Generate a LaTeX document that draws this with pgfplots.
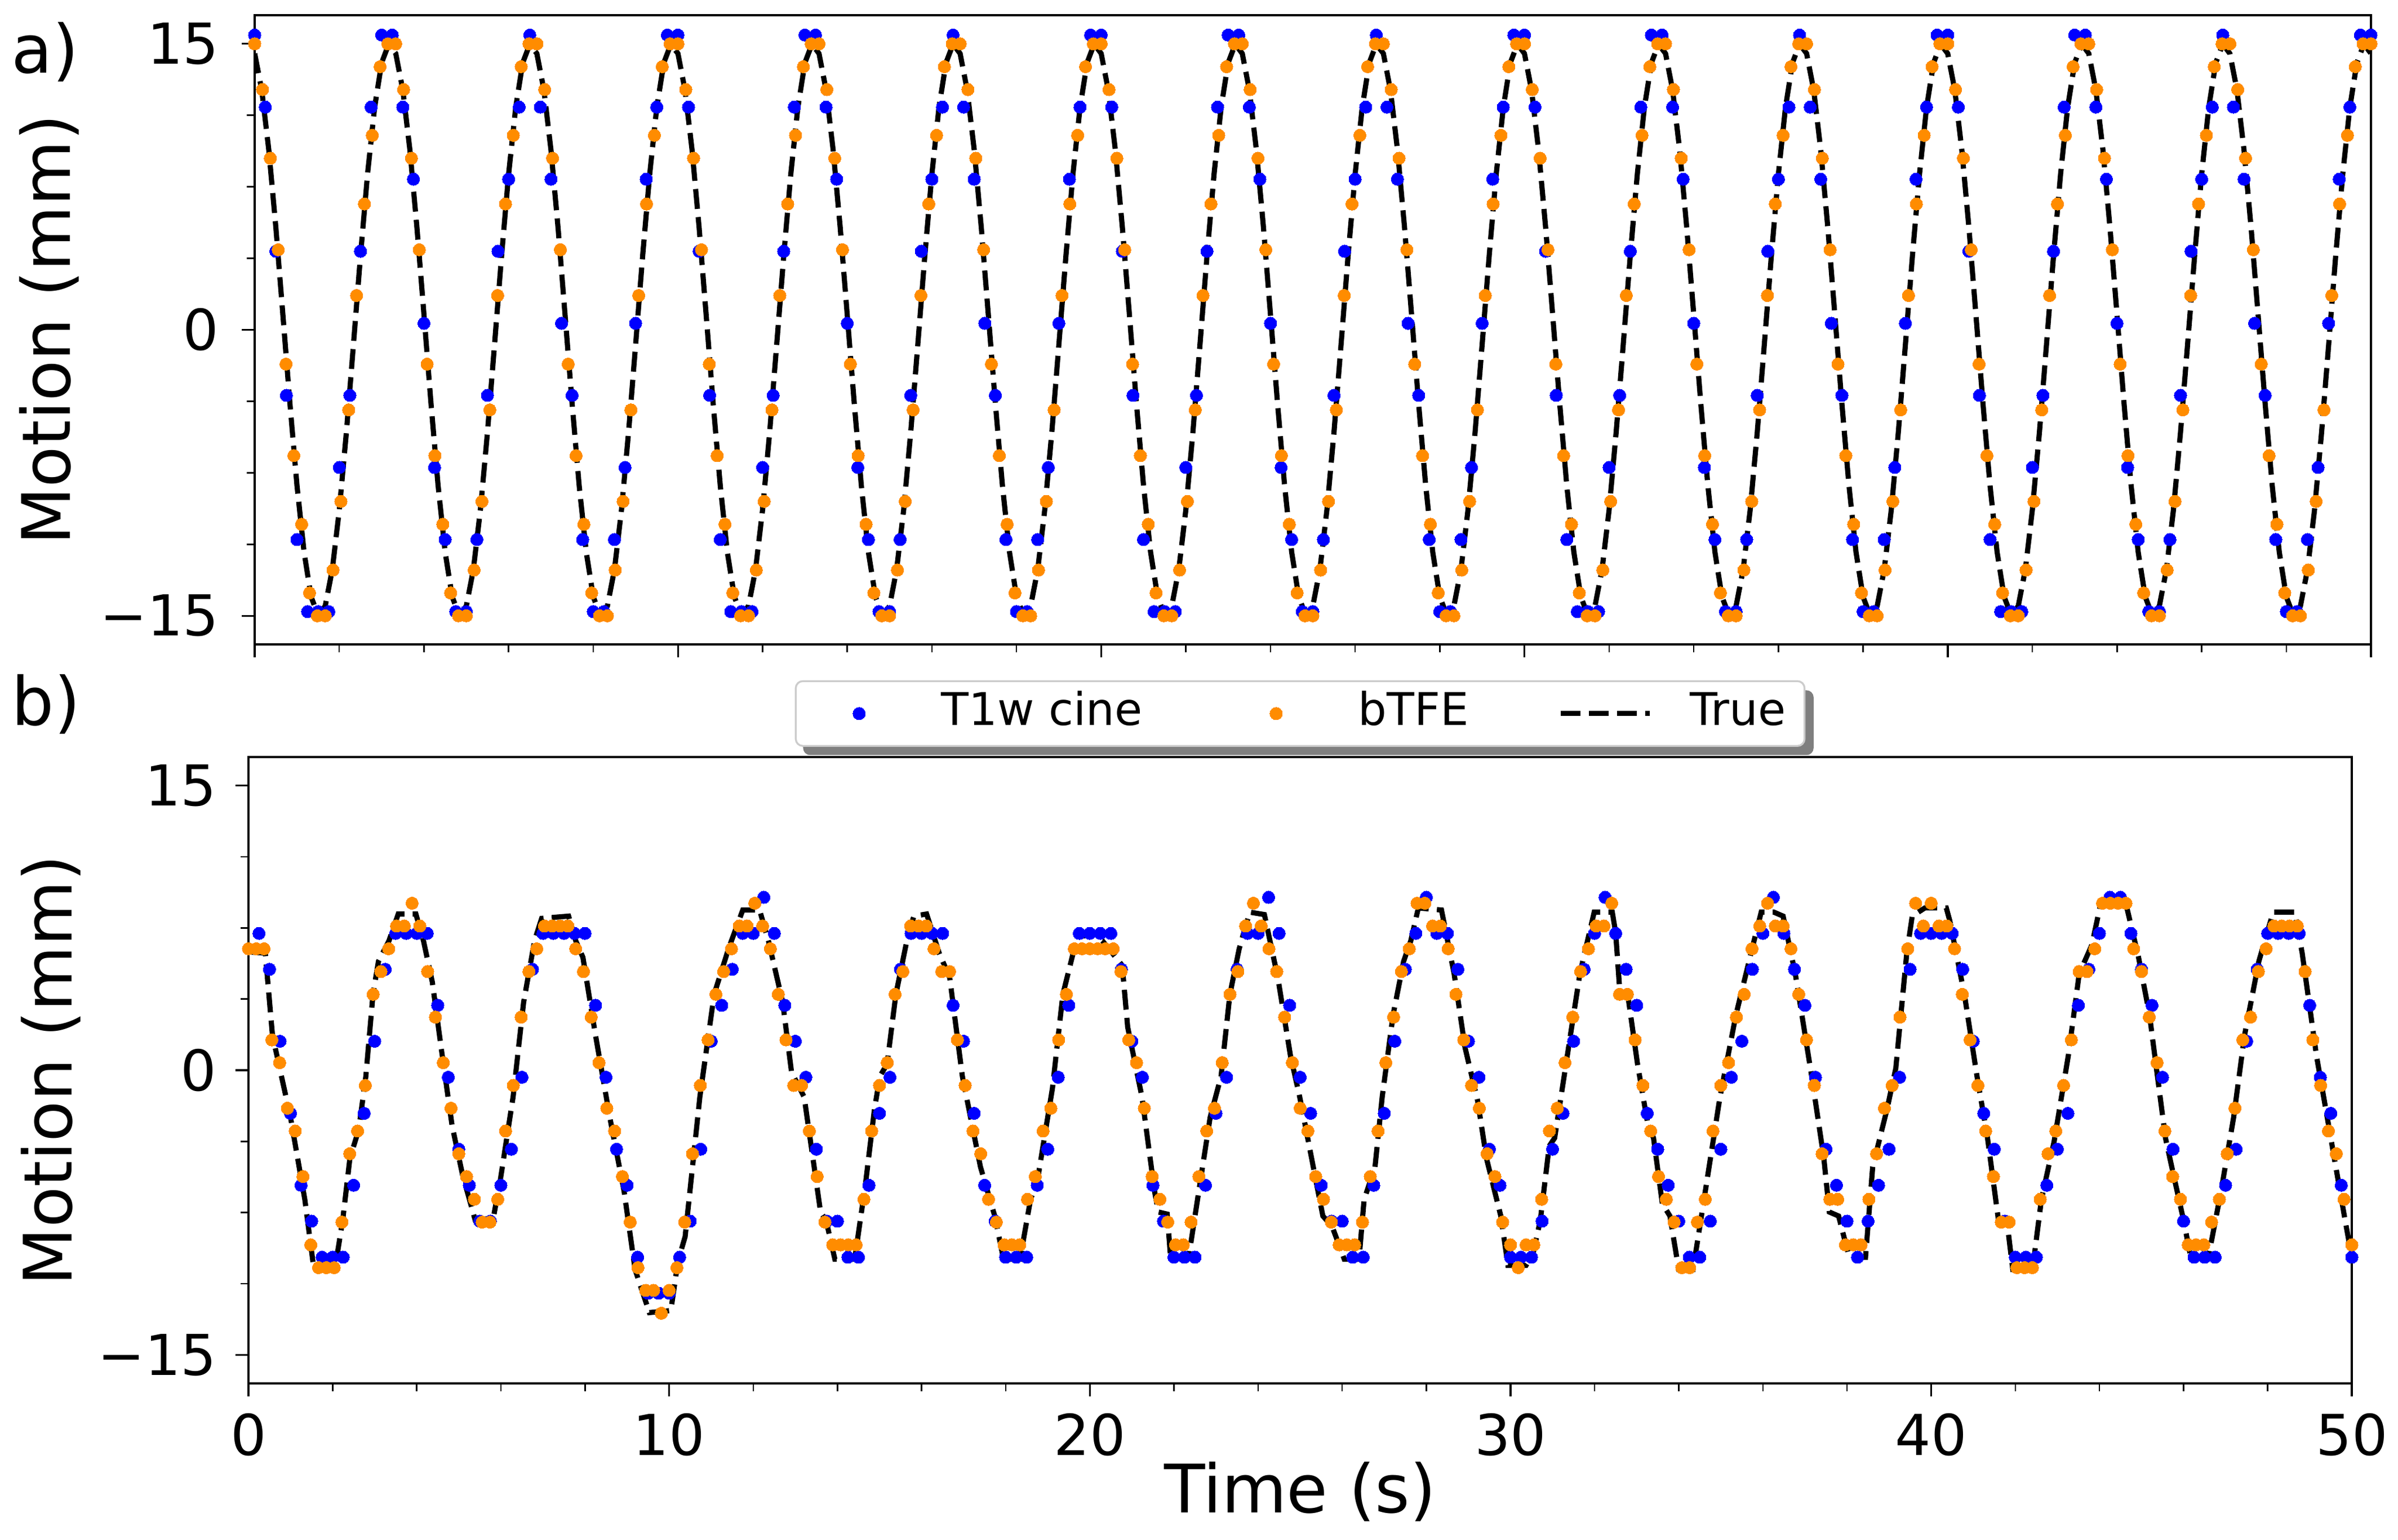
\documentclass[border=0pt]{standalone}
\usepackage{fontspec}
\setmainfont{DejaVu Sans}
\usepackage{pgfplots}
\pgfplotsset{compat=1.18}
\definecolor{cblue}{RGB}{0,0,255}
\definecolor{corange}{RGB}{255,140,0}
\pgfplotsset{
  panel/.style={
    scale only axis,
    axis on top,
    xmin=0, xmax=50, ymin=-16.5, ymax=16.5,
    axis line style={line width=0.8pt},
    every tick/.style={black, line width=0.8pt},
    minor tick style={line width=0.6pt},
    major tick length=5.5pt,
    minor tick length=3.4pt,
    tick align=outside,
    tick pos=left,
    xtick={0,10,20,30,40,50},
    minor x tick num=4,
    ytick={-15,0,15},
    yticklabels={−15,0,15},
    minor y tick num=3,
    tick label style={font=\fontsize{24}{28}\selectfont, inner sep=0pt},
    /pgf/number format/assume math mode=true,
    label style={font=\fontsize{28.5}{34}\selectfont, inner sep=0pt},
  },
  dotleg/.style={legend image code/.code={%
      \path[draw=none,fill=none] (0pt,-1pt) rectangle (38pt,1pt);
      \draw[mark repeat=2,mark phase=2,##1] plot coordinates {(0pt,0pt) (19pt,0pt) (38pt,0pt)};}},
  lineleg/.style={legend image code/.code={%
      \draw[##1] (0pt,0pt) -- (38pt,0pt);}},
  bluedots/.style={only marks, mark=*, mark size=2.65pt, color=cblue, mark options={line width=0pt}, dotleg},
  orangedots/.style={only marks, mark=*, mark size=2.65pt, color=corange, mark options={line width=0pt}, dotleg},
  trueline/.style={no markers, black, line width=2.2pt, dash pattern=on 8.5pt off 3.5pt, lineleg},
}
\begin{document}
\begin{tikzpicture}
\useasboundingbox (0,0) rectangle (1021.44pt,655.92pt);
\begin{axis}[panel, at={(108.48pt,381.36pt)}, anchor=south west,
  width=901.44pt, height=268.08pt,
  xticklabels={},
  yticklabel shift=9.6pt,
  ylabel={Motion (mm)},
  ylabel style={at={(axis description cs:-0.08706,0.5)}, anchor=base},
]
\addplot[bluedots] coordinates {
(0,15.46)(0.25,11.68)(0.5,4.12)(0.75,-3.44)(1,-11.0)(1.25,-14.78)(1.5,-14.78)(1.75,-14.78)(2,-7.22)(2.25,-3.44)(2.5,4.12)(2.75,11.68)(3,15.46)(3.25,15.46)(3.5,11.68)(3.75,7.90)(4,0.34)(4.25,-7.22)(4.5,-11.0)(4.75,-14.78)(5,-14.78)(5.25,-11.0)(5.5,-3.44)(5.75,4.12)(6,7.90)(6.25,11.68)(6.5,15.46)(6.75,11.68)(7,7.90)(7.25,0.34)(7.5,-3.44)(7.75,-11.0)(8,-14.78)(8.25,-14.78)(8.5,-11.0)(8.75,-7.22)(9,0.34)(9.25,7.90)(9.5,11.68)(9.75,15.46)
(10,15.46)(10.25,11.68)(10.5,4.12)(10.75,-3.44)(11,-11.0)(11.25,-14.78)(11.5,-14.78)(11.75,-14.78)(12,-7.22)(12.25,-3.44)(12.5,4.12)(12.75,11.68)(13,15.46)(13.25,15.46)(13.5,11.68)(13.75,7.90)(14,0.34)(14.25,-7.22)(14.5,-11.0)(14.75,-14.78)(15,-14.78)(15.25,-11.0)(15.5,-3.44)(15.75,4.12)(16,7.90)(16.25,11.68)(16.5,15.46)(16.75,11.68)(17,7.90)(17.25,0.34)(17.5,-3.44)(17.75,-11.0)(18,-14.78)(18.25,-14.78)(18.5,-11.0)(18.75,-7.22)(19,0.34)(19.25,7.90)(19.5,11.68)(19.75,15.46)
(20,15.46)(20.25,11.68)(20.5,4.12)(20.75,-3.44)(21,-11.0)(21.25,-14.78)(21.5,-14.78)(21.75,-14.78)(22,-7.22)(22.25,-3.44)(22.5,4.12)(22.75,11.68)(23,15.46)(23.25,15.46)(23.5,11.68)(23.75,7.90)(24,0.34)(24.25,-7.22)(24.5,-11.0)(24.75,-14.78)(25,-14.78)(25.25,-11.0)(25.5,-3.44)(25.75,4.12)(26,7.90)(26.25,11.68)(26.5,15.46)(26.75,11.68)(27,7.90)(27.25,0.34)(27.5,-3.44)(27.75,-11.0)(28,-14.78)(28.25,-14.78)(28.5,-11.0)(28.75,-7.22)(29,0.34)(29.25,7.90)(29.5,11.68)(29.75,15.46)
(30,15.46)(30.25,11.68)(30.5,4.12)(30.75,-3.44)(31,-11.0)(31.25,-14.78)(31.5,-14.78)(31.75,-14.78)(32,-7.22)(32.25,-3.44)(32.5,4.12)(32.75,11.68)(33,15.46)(33.25,15.46)(33.5,11.68)(33.75,7.90)(34,0.34)(34.25,-7.22)(34.5,-11.0)(34.75,-14.78)(35,-14.78)(35.25,-11.0)(35.5,-3.44)(35.75,4.12)(36,7.90)(36.25,11.68)(36.5,15.46)(36.75,11.68)(37,7.90)(37.25,0.34)(37.5,-3.44)(37.75,-11.0)(38,-14.78)(38.25,-14.78)(38.5,-11.0)(38.75,-7.22)(39,0.34)(39.25,7.90)(39.5,11.68)(39.75,15.46)
(40,15.46)(40.25,11.68)(40.5,4.12)(40.75,-3.44)(41,-11.0)(41.25,-14.78)(41.5,-14.78)(41.75,-14.78)(42,-7.22)(42.25,-3.44)(42.5,4.12)(42.75,11.68)(43,15.46)(43.25,15.46)(43.5,11.68)(43.75,7.90)(44,0.34)(44.25,-7.22)(44.5,-11.0)(44.75,-14.78)(45,-14.78)(45.25,-11.0)(45.5,-3.44)(45.75,4.12)(46,7.90)(46.25,11.68)(46.5,15.46)(46.75,11.68)(47,7.90)(47.25,0.34)(47.5,-3.44)(47.75,-11.0)(48,-14.78)(48.25,-14.78)(48.5,-11.0)(48.75,-7.22)(49,0.34)(49.25,7.90)(49.5,11.68)(49.75,15.46)
(50,15.46)
};
\addplot[orangedots] coordinates {
(0,15.0)(0.185,12.6)(0.370,9.0)(0.556,4.2)(0.741,-1.8)(0.926,-6.6)(1.111,-10.2)(1.296,-13.8)(1.481,-15.0)(1.667,-15.0)(1.852,-12.6)(2.037,-9.0)(2.222,-4.2)(2.407,1.8)(2.593,6.6)(2.778,10.2)(2.963,13.8)(3.148,15.0)
(3.333,15.0)(3.519,12.6)(3.704,9.0)(3.889,4.2)(4.074,-1.8)(4.259,-6.6)(4.444,-10.2)(4.630,-13.8)(4.815,-15.0)(5.0,-15.0)(5.185,-12.6)(5.370,-9.0)(5.556,-4.2)(5.741,1.8)(5.926,6.6)(6.111,10.2)(6.296,13.8)(6.481,15.0)
(6.667,15.0)(6.852,12.6)(7.037,9.0)(7.222,4.2)(7.407,-1.8)(7.593,-6.6)(7.778,-10.2)(7.963,-13.8)(8.148,-15.0)(8.333,-15.0)(8.519,-12.6)(8.704,-9.0)(8.889,-4.2)(9.074,1.8)(9.259,6.6)(9.444,10.2)(9.630,13.8)(9.815,15.0)
(10,15.0)(10.185,12.6)(10.370,9.0)(10.556,4.2)(10.741,-1.8)(10.926,-6.6)(11.111,-10.2)(11.296,-13.8)(11.481,-15.0)(11.667,-15.0)(11.852,-12.6)(12.037,-9.0)(12.222,-4.2)(12.407,1.8)(12.593,6.6)(12.778,10.2)(12.963,13.8)(13.148,15.0)
(13.333,15.0)(13.519,12.6)(13.704,9.0)(13.889,4.2)(14.074,-1.8)(14.259,-6.6)(14.444,-10.2)(14.630,-13.8)(14.815,-15.0)(15.0,-15.0)(15.185,-12.6)(15.370,-9.0)(15.556,-4.2)(15.741,1.8)(15.926,6.6)(16.111,10.2)(16.296,13.8)(16.481,15.0)
(16.667,15.0)(16.852,12.6)(17.037,9.0)(17.222,4.2)(17.407,-1.8)(17.593,-6.6)(17.778,-10.2)(17.963,-13.8)(18.148,-15.0)(18.333,-15.0)(18.519,-12.6)(18.704,-9.0)(18.889,-4.2)(19.074,1.8)(19.259,6.6)(19.444,10.2)(19.630,13.8)(19.815,15.0)
(20,15.0)(20.185,12.6)(20.370,9.0)(20.556,4.2)(20.741,-1.8)(20.926,-6.6)(21.111,-10.2)(21.296,-13.8)(21.481,-15.0)(21.667,-15.0)(21.852,-12.6)(22.037,-9.0)(22.222,-4.2)(22.407,1.8)(22.593,6.6)(22.778,10.2)(22.963,13.8)(23.148,15.0)
(23.333,15.0)(23.519,12.6)(23.704,9.0)(23.889,4.2)(24.074,-1.8)(24.259,-6.6)(24.444,-10.2)(24.630,-13.8)(24.815,-15.0)(25.0,-15.0)(25.185,-12.6)(25.370,-9.0)(25.556,-4.2)(25.741,1.8)(25.926,6.6)(26.111,10.2)(26.296,13.8)(26.481,15.0)
(26.667,15.0)(26.852,12.6)(27.037,9.0)(27.222,4.2)(27.407,-1.8)(27.593,-6.6)(27.778,-10.2)(27.963,-13.8)(28.148,-15.0)(28.333,-15.0)(28.519,-12.6)(28.704,-9.0)(28.889,-4.2)(29.074,1.8)(29.259,6.6)(29.444,10.2)(29.630,13.8)(29.815,15.0)
(30,15.0)(30.185,12.6)(30.370,9.0)(30.556,4.2)(30.741,-1.8)(30.926,-6.6)(31.111,-10.2)(31.296,-13.8)(31.481,-15.0)(31.667,-15.0)(31.852,-12.6)(32.037,-9.0)(32.222,-4.2)(32.407,1.8)(32.593,6.6)(32.778,10.2)(32.963,13.8)(33.148,15.0)
(33.333,15.0)(33.519,12.6)(33.704,9.0)(33.889,4.2)(34.074,-1.8)(34.259,-6.6)(34.444,-10.2)(34.630,-13.8)(34.815,-15.0)(35.0,-15.0)(35.185,-12.6)(35.370,-9.0)(35.556,-4.2)(35.741,1.8)(35.926,6.6)(36.111,10.2)(36.296,13.8)(36.481,15.0)
(36.667,15.0)(36.852,12.6)(37.037,9.0)(37.222,4.2)(37.407,-1.8)(37.593,-6.6)(37.778,-10.2)(37.963,-13.8)(38.148,-15.0)(38.333,-15.0)(38.519,-12.6)(38.704,-9.0)(38.889,-4.2)(39.074,1.8)(39.259,6.6)(39.444,10.2)(39.630,13.8)(39.815,15.0)
(40,15.0)(40.185,12.6)(40.370,9.0)(40.556,4.2)(40.741,-1.8)(40.926,-6.6)(41.111,-10.2)(41.296,-13.8)(41.481,-15.0)(41.667,-15.0)(41.852,-12.6)(42.037,-9.0)(42.222,-4.2)(42.407,1.8)(42.593,6.6)(42.778,10.2)(42.963,13.8)(43.148,15.0)
(43.333,15.0)(43.519,12.6)(43.704,9.0)(43.889,4.2)(44.074,-1.8)(44.259,-6.6)(44.444,-10.2)(44.630,-13.8)(44.815,-15.0)(45.0,-15.0)(45.185,-12.6)(45.370,-9.0)(45.556,-4.2)(45.741,1.8)(45.926,6.6)(46.111,10.2)(46.296,13.8)(46.481,15.0)
(46.667,15.0)(46.852,12.6)(47.037,9.0)(47.222,4.2)(47.407,-1.8)(47.593,-6.6)(47.778,-10.2)(47.963,-13.8)(48.148,-15.0)(48.333,-15.0)(48.519,-12.6)(48.704,-9.0)(48.889,-4.2)(49.074,1.8)(49.259,6.6)(49.444,10.2)(49.630,13.8)(49.815,15.0)
(50,15.0)
};
\addplot[trueline] coordinates {
(0,14.489)(0.1667,12.580)(0.3333,9.440)(0.5,5.376)(0.6667,0.785)(0.8333,-3.882)
(1,-8.170)(1.1667,-11.657)(1.3333,-14.004)(1.5,-14.979)(1.6667,-14.489)(1.8333,-12.580)
(2,-9.440)(2.1667,-5.376)(2.3333,-0.785)(2.5,3.882)(2.6667,8.170)(2.8333,11.657)
(3,14.004)(3.1667,14.979)(3.3333,14.489)(3.5,12.580)(3.6667,9.440)(3.8333,5.376)
(4,0.785)(4.1667,-3.882)(4.3333,-8.170)(4.5,-11.657)(4.6667,-14.004)(4.8333,-14.979)
(5,-14.489)(5.1667,-12.580)(5.3333,-9.440)(5.5,-5.376)(5.6667,-0.785)(5.8333,3.882)
(6,8.170)(6.1667,11.657)(6.3333,14.004)(6.5,14.979)(6.6667,14.489)(6.8333,12.580)
(7,9.440)(7.1667,5.376)(7.3333,0.785)(7.5,-3.882)(7.6667,-8.170)(7.8333,-11.657)
(8,-14.004)(8.1667,-14.979)(8.3333,-14.489)(8.5,-12.580)(8.6667,-9.440)(8.8333,-5.376)
(9,-0.785)(9.1667,3.882)(9.3333,8.170)(9.5,11.657)(9.6667,14.004)(9.8333,14.979)
(10,14.489)(10.1667,12.580)(10.3333,9.440)(10.5,5.376)(10.6667,0.785)(10.8333,-3.882)
(11,-8.170)(11.1667,-11.657)(11.3333,-14.004)(11.5,-14.979)(11.6667,-14.489)(11.8333,-12.580)
(12,-9.440)(12.1667,-5.376)(12.3333,-0.785)(12.5,3.882)(12.6667,8.170)(12.8333,11.657)
(13,14.004)(13.1667,14.979)(13.3333,14.489)(13.5,12.580)(13.6667,9.440)(13.8333,5.376)
(14,0.785)(14.1667,-3.882)(14.3333,-8.170)(14.5,-11.657)(14.6667,-14.004)(14.8333,-14.979)
(15,-14.489)(15.1667,-12.580)(15.3333,-9.440)(15.5,-5.376)(15.6667,-0.785)(15.8333,3.882)
(16,8.170)(16.1667,11.657)(16.3333,14.004)(16.5,14.979)(16.6667,14.489)(16.8333,12.580)
(17,9.440)(17.1667,5.376)(17.3333,0.785)(17.5,-3.882)(17.6667,-8.170)(17.8333,-11.657)
(18,-14.004)(18.1667,-14.979)(18.3333,-14.489)(18.5,-12.580)(18.6667,-9.440)(18.8333,-5.376)
(19,-0.785)(19.1667,3.882)(19.3333,8.170)(19.5,11.657)(19.6667,14.004)(19.8333,14.979)
(20,14.489)(20.1667,12.580)(20.3333,9.440)(20.5,5.376)(20.6667,0.785)(20.8333,-3.882)
(21,-8.170)(21.1667,-11.657)(21.3333,-14.004)(21.5,-14.979)(21.6667,-14.489)(21.8333,-12.580)
(22,-9.440)(22.1667,-5.376)(22.3333,-0.785)(22.5,3.882)(22.6667,8.170)(22.8333,11.657)
(23,14.004)(23.1667,14.979)(23.3333,14.489)(23.5,12.580)(23.6667,9.440)(23.8333,5.376)
(24,0.785)(24.1667,-3.882)(24.3333,-8.170)(24.5,-11.657)(24.6667,-14.004)(24.8333,-14.979)
(25,-14.489)(25.1667,-12.580)(25.3333,-9.440)(25.5,-5.376)(25.6667,-0.785)(25.8333,3.882)
(26,8.170)(26.1667,11.657)(26.3333,14.004)(26.5,14.979)(26.6667,14.489)(26.8333,12.580)
(27,9.440)(27.1667,5.376)(27.3333,0.785)(27.5,-3.882)(27.6667,-8.170)(27.8333,-11.657)
(28,-14.004)(28.1667,-14.979)(28.3333,-14.489)(28.5,-12.580)(28.6667,-9.440)(28.8333,-5.376)
(29,-0.785)(29.1667,3.882)(29.3333,8.170)(29.5,11.657)(29.6667,14.004)(29.8333,14.979)
(30,14.489)(30.1667,12.580)(30.3333,9.440)(30.5,5.376)(30.6667,0.785)(30.8333,-3.882)
(31,-8.170)(31.1667,-11.657)(31.3333,-14.004)(31.5,-14.979)(31.6667,-14.489)(31.8333,-12.580)
(32,-9.440)(32.1667,-5.376)(32.3333,-0.785)(32.5,3.882)(32.6667,8.170)(32.8333,11.657)
(33,14.004)(33.1667,14.979)(33.3333,14.489)(33.5,12.580)(33.6667,9.440)(33.8333,5.376)
(34,0.785)(34.1667,-3.882)(34.3333,-8.170)(34.5,-11.657)(34.6667,-14.004)(34.8333,-14.979)
(35,-14.489)(35.1667,-12.580)(35.3333,-9.440)(35.5,-5.376)(35.6667,-0.785)(35.8333,3.882)
(36,8.170)(36.1667,11.657)(36.3333,14.004)(36.5,14.979)(36.6667,14.489)(36.8333,12.580)
(37,9.440)(37.1667,5.376)(37.3333,0.785)(37.5,-3.882)(37.6667,-8.170)(37.8333,-11.657)
(38,-14.004)(38.1667,-14.979)(38.3333,-14.489)(38.5,-12.580)(38.6667,-9.440)(38.8333,-5.376)
(39,-0.785)(39.1667,3.882)(39.3333,8.170)(39.5,11.657)(39.6667,14.004)(39.8333,14.979)
(40,14.489)(40.1667,12.580)(40.3333,9.440)(40.5,5.376)(40.6667,0.785)(40.8333,-3.882)
(41,-8.170)(41.1667,-11.657)(41.3333,-14.004)(41.5,-14.979)(41.6667,-14.489)(41.8333,-12.580)
(42,-9.440)(42.1667,-5.376)(42.3333,-0.785)(42.5,3.882)(42.6667,8.170)(42.8333,11.657)
(43,14.004)(43.1667,14.979)(43.3333,14.489)(43.5,12.580)(43.6667,9.440)(43.8333,5.376)
(44,0.785)(44.1667,-3.882)(44.3333,-8.170)(44.5,-11.657)(44.6667,-14.004)(44.8333,-14.979)
(45,-14.489)(45.1667,-12.580)(45.3333,-9.440)(45.5,-5.376)(45.6667,-0.785)(45.8333,3.882)
(46,8.170)(46.1667,11.657)(46.3333,14.004)(46.5,14.979)(46.6667,14.489)(46.8333,12.580)
(47,9.440)(47.1667,5.376)(47.3333,0.785)(47.5,-3.882)(47.6667,-8.170)(47.8333,-11.657)
(48,-14.004)(48.1667,-14.979)(48.3333,-14.489)(48.5,-12.580)(48.6667,-9.440)(48.8333,-5.376)
(49,-0.785)(49.1667,3.882)(49.3333,8.170)(49.5,11.657)(49.6667,14.004)(49.8333,14.979)
(50,14.489)
};
\end{axis}
% legend shadow (drawn behind the legend box of panel b)
\fill[black, opacity=0.5, rounded corners=3pt] (342.1pt,334.2pt) rectangle (772.5pt,361.8pt);
\begin{axis}[panel, at={(105.84pt,66.48pt)}, anchor=south west,
  width=895.92pt, height=266.88pt,
  xticklabels={0,10,20,30,40,50},
  xticklabel shift=7.1pt,
  yticklabel shift=7.9pt,
  xlabel={Time (s)},
  xlabel style={at={(axis description cs:0.5,-0.20676)}, anchor=base},
  ylabel={Motion (mm)},
  ylabel style={at={(axis description cs:-0.08387,0.5)}, anchor=base},
  legend columns=3,
  legend cell align=left,
  legend style={
    at={(axis description cs:0.5,1)}, anchor=south, yshift=4.34pt,
    font=\fontsize{19.2}{23}\selectfont,
    draw=black!20, line width=0.8pt, fill=white, rounded corners=3pt,
    inner xsep=8pt, inner ysep=4.2pt,
    nodes={inner sep=0pt, text height=14.6pt, text depth=4.6pt},
    column sep=0pt,
    /tikz/every odd column/.append style={column sep=16pt},
    /tikz/every even column/.append style={column sep=38pt},
  },
]
\addplot[bluedots] coordinates {
(0.25,7.21)(0.5,5.32)(0.75,1.53)(1.0,-2.27)(1.25,-6.06)(1.5,-7.95)(1.75,-9.85)(2.0,-9.85)(2.25,-9.85)(2.5,-6.06)(2.75,-2.27)(3.0,1.53)(3.25,5.32)(3.5,7.21)(3.75,7.21)(4.0,7.21)(4.25,7.21)(4.5,3.42)(4.75,-0.37)(5.0,-4.16)(5.25,-6.06)(5.5,-7.95)(5.75,-7.95)(6.0,-6.06)(6.25,-4.16)(6.5,-0.37)(6.75,5.32)(7.0,7.21)(7.25,7.21)(7.5,7.21)(7.75,7.21)(8.0,7.21)(8.25,3.42)(8.5,-0.37)(8.75,-4.16)(9.0,-6.06)(9.25,-9.85)(9.5,-11.75)(9.75,-11.75)(10.0,-11.75)(10.25,-9.85)(10.5,-7.95)(10.75,-4.16)(11.0,1.53)(11.25,3.42)(11.5,5.32)(11.75,7.21)(12.0,7.21)(12.25,9.11)(12.5,7.21)(12.75,3.42)
(13.0,1.53)(13.25,-0.37)(13.5,-4.16)(13.75,-7.95)(14.0,-7.95)(14.25,-9.85)(14.5,-9.85)(14.75,-6.06)(15.0,-2.27)(15.25,-0.37)(15.5,5.32)(15.75,7.21)(16.0,7.21)(16.25,7.21)(16.5,7.21)(16.75,3.42)(17.0,1.53)(17.25,-2.27)(17.5,-6.06)(17.75,-7.95)(18.0,-9.85)(18.25,-9.85)(18.5,-9.85)(18.75,-6.06)(19.0,-4.16)(19.25,-0.37)(19.5,3.42)(19.75,7.21)(20.0,7.21)(20.25,7.21)(20.5,7.21)(20.75,5.32)(21.0,1.53)(21.25,-0.37)(21.5,-6.06)(21.75,-7.95)(22.0,-9.85)(22.25,-9.85)(22.5,-9.85)(22.75,-6.06)(23.0,-2.27)(23.25,-0.37)(23.5,5.32)(23.75,7.21)(24.0,7.21)(24.25,9.11)(24.5,7.21)(24.75,3.42)
(25.0,-0.37)(25.25,-2.27)(25.5,-6.06)(25.75,-7.95)(26.0,-7.95)(26.25,-9.85)(26.5,-9.85)(26.75,-6.06)(27.0,-2.27)(27.25,1.53)(27.5,5.32)(27.75,7.21)(28.0,9.11)(28.25,7.21)(28.5,7.21)(28.75,5.32)(29.0,1.53)(29.25,-0.37)(29.5,-4.16)(29.75,-6.06)(30.0,-9.85)(30.25,-9.85)(30.5,-9.85)(30.75,-7.95)(31.0,-4.16)(31.25,-2.27)(31.5,1.53)(31.75,5.32)(32.0,7.21)(32.25,9.11)(32.5,7.21)(32.75,5.32)(33.0,3.42)(33.25,-2.27)(33.5,-4.16)(33.75,-6.06)(34.0,-7.95)(34.25,-9.85)(34.5,-9.85)(34.75,-7.95)(35.0,-4.16)(35.25,-0.37)(35.5,1.53)(35.75,5.32)(36.0,7.21)(36.25,9.11)(36.5,7.21)(36.75,5.32)(37.0,3.42)
(37.25,-0.37)(37.5,-4.16)(37.75,-6.06)(38.0,-7.95)(38.25,-9.85)(38.5,-7.95)(38.75,-6.06)(39.0,-4.16)(39.25,-0.37)(39.5,5.32)(39.75,7.21)(40.0,7.21)(40.25,7.21)(40.5,7.21)(40.75,5.32)(41.0,1.53)(41.25,-2.27)(41.5,-4.16)(41.75,-7.95)(42.0,-9.85)(42.25,-9.85)(42.5,-9.85)(42.75,-6.06)(43.0,-4.16)(43.25,-2.27)(43.5,3.42)(43.75,5.32)(44.0,7.21)(44.25,9.11)(44.5,9.11)(44.75,7.21)(45.0,5.32)(45.25,3.42)(45.5,-0.37)(45.75,-4.16)(46.0,-7.95)(46.25,-9.85)(46.5,-9.85)(46.75,-9.85)(47.0,-6.06)(47.25,-4.16)(47.5,1.53)(47.75,5.32)(48.0,7.21)(48.25,7.21)(48.5,7.21)(48.75,7.21)(49.0,3.42)(49.25,-0.37)(49.5,-2.27)(49.75,-6.06)(50.0,-9.85)
};
\addlegendentry{T1w cine}
\addplot[orangedots] coordinates {
(0,6.4)(0.185,6.4)(0.370,6.4)(0.556,1.6)(0.741,0.4)(0.926,-2.0)(1.111,-3.2)(1.296,-5.6)(1.481,-9.2)(1.667,-10.4)(1.852,-10.4)(2.037,-10.4)(2.222,-8.0)(2.407,-4.4)(2.593,-3.2)(2.778,-0.8)(2.963,4.0)(3.148,5.2)(3.333,6.4)(3.519,7.6)(3.704,7.6)(3.889,8.8)(4.074,7.6)(4.259,5.2)(4.444,2.8)(4.630,0.4)(4.815,-2.0)(5.0,-4.4)(5.185,-5.6)(5.370,-6.8)(5.556,-8.0)(5.741,-8.0)(5.926,-6.8)(6.111,-3.2)(6.296,-0.8)(6.481,2.8)(6.667,5.2)(6.852,6.4)(7.037,7.6)(7.222,7.6)(7.407,7.6)(7.593,7.6)(7.778,6.4)(7.963,5.2)(8.148,2.8)(8.333,0.4)(8.519,-2.0)(8.704,-3.2)(8.889,-5.6)(9.074,-8.0)(9.259,-10.4)(9.444,-11.6)(9.630,-11.6)(9.815,-12.8)
(10.0,-11.6)(10.185,-10.4)(10.370,-8.0)(10.556,-4.4)(10.741,-0.8)(10.926,1.6)(11.111,4.0)(11.296,5.2)(11.481,6.4)(11.667,7.6)(11.852,7.6)(12.037,8.8)(12.222,7.6)(12.407,6.4)(12.593,4.0)(12.778,1.6)(12.963,-0.8)(13.148,-0.8)(13.333,-3.2)(13.519,-5.6)(13.704,-8.0)(13.889,-9.2)(14.074,-9.2)(14.259,-9.2)(14.444,-9.2)(14.630,-6.8)(14.815,-3.2)(15.0,-0.8)(15.185,0.4)(15.370,4.0)(15.556,5.2)(15.741,7.6)(15.926,7.6)(16.111,7.6)(16.296,6.4)(16.481,5.2)(16.667,5.2)(16.852,1.6)(17.037,-0.8)(17.222,-3.2)(17.407,-4.4)(17.593,-6.8)(17.778,-8.0)(17.963,-9.2)(18.148,-9.2)(18.333,-9.2)(18.519,-6.8)(18.704,-5.6)(18.889,-3.2)(19.074,-2.0)(19.259,1.6)(19.444,4.0)(19.630,6.4)(19.815,6.4)
(20.0,6.4)(20.185,6.4)(20.370,6.4)(20.556,6.4)(20.741,5.2)(20.926,1.6)(21.111,0.4)(21.296,-2.0)(21.481,-5.6)(21.667,-6.8)(21.852,-8.0)(22.037,-9.2)(22.222,-9.2)(22.407,-8.0)(22.593,-5.6)(22.778,-3.2)(22.963,-2.0)(23.148,0.4)(23.333,4.0)(23.519,5.2)(23.704,7.6)(23.889,8.8)(24.074,7.6)(24.259,6.4)(24.444,5.2)(24.630,2.8)(24.815,0.4)(25.0,-2.0)(25.185,-3.2)(25.370,-5.6)(25.556,-6.8)(25.741,-8.0)(25.926,-9.2)(26.111,-9.2)(26.296,-9.2)(26.481,-8.0)(26.667,-5.6)(26.852,-3.2)(27.037,0.4)(27.222,2.8)(27.407,5.2)(27.593,6.4)(27.778,8.8)(27.963,8.8)(28.148,7.6)(28.333,7.6)(28.519,6.4)(28.704,4.0)(28.889,1.6)(29.074,-0.8)(29.259,-2.0)(29.444,-4.4)(29.630,-5.6)(29.815,-8.0)
(30.0,-9.2)(30.185,-10.4)(30.370,-9.2)(30.556,-9.2)(30.741,-6.8)(30.926,-3.2)(31.111,-2.0)(31.296,0.4)(31.481,2.8)(31.667,5.2)(31.852,6.4)(32.037,7.6)(32.222,7.6)(32.407,8.8)(32.593,4.0)(32.778,4.0)(32.963,1.6)(33.148,-0.8)(33.333,-3.2)(33.519,-5.6)(33.704,-6.8)(33.889,-8.0)(34.074,-10.4)(34.259,-10.4)(34.444,-8.0)(34.630,-6.8)(34.815,-3.2)(35.0,-0.8)(35.185,0.4)(35.370,2.8)(35.556,4.0)(35.741,6.4)(35.926,7.6)(36.111,8.8)(36.296,7.6)(36.481,7.6)(36.667,6.4)(36.852,4.0)(37.037,1.6)(37.222,-0.8)(37.407,-4.4)(37.593,-6.8)(37.778,-6.8)(37.963,-9.2)(38.148,-9.2)(38.333,-9.2)(38.519,-6.8)(38.704,-4.4)(38.889,-2.0)(39.074,-0.8)(39.259,2.8)(39.444,6.4)(39.630,8.8)(39.815,7.6)
(40.0,8.8)(40.185,7.6)(40.370,7.6)(40.556,6.4)(40.741,4.0)(40.926,1.6)(41.111,-0.8)(41.296,-3.2)(41.481,-5.6)(41.667,-8.0)(41.852,-8.0)(42.037,-10.4)(42.222,-10.4)(42.407,-10.4)(42.593,-6.8)(42.778,-4.4)(42.963,-3.2)(43.148,-0.8)(43.333,1.6)(43.519,5.2)(43.704,5.2)(43.889,6.4)(44.074,8.8)(44.259,8.8)(44.444,8.8)(44.630,8.8)(44.815,6.4)(45.0,5.2)(45.185,2.8)(45.370,0.4)(45.556,-3.2)(45.741,-5.6)(45.926,-6.8)(46.111,-9.2)(46.296,-9.2)(46.481,-9.2)(46.667,-8.0)(46.852,-6.8)(47.037,-4.4)(47.222,-2.0)(47.407,1.6)(47.593,2.8)(47.778,5.2)(47.963,6.4)(48.148,7.6)(48.333,7.6)(48.519,7.6)(48.704,7.6)(48.889,5.2)(49.074,1.6)(49.259,-0.8)(49.444,-3.2)(49.630,-4.4)(49.815,-6.8)
(50.0,-9.2)
};
\addlegendentry{bTFE}
\addplot[trueline] coordinates {
(0,6.23)(0.40,6.17)(0.57,1.84)(1.00,-2.49)(1.34,-6.82)(1.55,-10.39)(2.06,-10.39)(2.24,-7.9)(2.41,-4.65)(2.62,-3.14)(2.79,-0.32)(2.96,4.0)(3.09,5.74)(3.34,6.82)(3.56,8.23)(3.98,8.23)(4.16,6.82)(4.37,4.65)(4.58,1.19)(4.84,-2.92)(5.09,-5.52)(5.39,-7.9)(5.82,-7.79)(5.99,-5.74)(6.29,-1.41)(6.54,3.57)(6.80,6.82)(6.97,8.0)(7.61,8.12)(7.78,6.82)(7.95,5.95)(8.25,1.84)(8.59,-2.49)(8.93,-6.39)(9.19,-10.5)(9.53,-12.77)(10.04,-12.66)(10.21,-10.06)(10.38,-8.77)(10.73,-1.41)(11.07,4.0)(11.41,6.39)(11.75,8.44)(12.15,8.44)(12.36,6.82)(12.70,3.57)(12.91,-0.11)(13.21,-1.41)(13.60,-7.47)(13.73,-7.9)(13.94,-9.96)(14.41,-9.96)(14.67,-5.95)(14.88,-2.06)(15.01,-0.32)(15.18,0.32)(15.39,4.0)(15.69,7.25)(15.82,8.12)(16.12,8.23)(16.42,6.17)(16.67,4.87)(16.97,-0.32)(17.40,-5.09)(17.74,-7.68)(17.95,-9.96)(18.34,-9.96)(18.59,-6.82)(18.76,-5.74)(19.11,-0.97)(19.36,4.0)(19.70,7.03)(20.09,7.14)(20.30,6.82)(20.77,5.52)(20.90,2.27)(21.24,-1.41)(21.54,-6.39)(21.63,-7.47)(21.84,-7.58)(21.92,-9.85)(22.35,-9.85)(22.56,-6.82)(22.86,-2.49)(23.12,-0.32)(23.33,4.0)(23.55,6.39)(23.80,8.33)(24.15,8.2)(24.47,4.87)(24.77,0.76)(24.99,-1.41)(25.33,-5.30)(25.54,-7.68)(25.76,-8.23)(26.05,-9.96)(26.40,-9.96)(26.52,-6.82)(26.78,-5.09)(26.95,-1.41)(27.21,2.92)(27.46,5.74)(27.63,6.82)(27.81,8.55)(28.36,8.44)(28.66,5.09)(28.92,1.19)(29.22,-1.62)(29.43,-4.65)(29.77,-7.68)(29.94,-10.28)(30.37,-10.28)(30.54,-9.63)(30.71,-7.9)(30.92,-4.0)(31.05,-3.57)(31.35,0.76)(31.65,5.09)(31.99,8.33)(32.42,8.33)(32.50,7.25)(32.59,4.44)(32.80,3.79)(33.02,0.32)(33.27,-2.92)(33.40,-3.57)(33.61,-7.03)(33.79,-7.68)(34.00,-10.5)(34.34,-10.5)(34.60,-6.82)(34.98,-1.41)(35.36,2.92)(35.79,6.82)(35.96,8.33)(36.26,8.33)(36.48,8.12)(36.77,5.09)(37.16,-0.32)(37.45,-4.65)(37.58,-7.47)(37.80,-7.68)(38.05,-9.85)(38.44,-9.85)(38.61,-5.09)(38.95,-2.06)(39.16,0.11)(39.42,6.17)(39.55,8.12)(39.85,8.55)(40.36,8.55)(40.44,7.9)(40.79,4.0)(41.09,-0.32)(41.34,-3.57)(41.60,-7.9)(41.81,-8.12)(41.94,-10.5)(42.41,-10.5)(42.62,-6.82)(42.92,-3.79)(43.26,0.76)(43.52,5.09)(43.82,6.6)(44.03,8.77)(44.63,8.77)(44.93,5.95)(45.19,2.92)(45.57,-3.57)(45.74,-5.30)(46.00,-7.9)(46.17,-9.85)(46.59,-9.85)(46.89,-6.39)(47.19,-2.49)(47.45,1.84)(47.79,5.74)(48.13,8.33)(48.64,8.33)(48.82,6.17)(49.16,0.76)(49.50,-3.57)(49.84,-7.9)(50.00,-9.85)
};
\addlegendentry{True}
\end{axis}
\node[anchor=base west, inner sep=0pt, font=\fontsize{28.5}{34}\selectfont] at (4.8pt,624.8pt) {a)};
\node[anchor=base west, inner sep=0pt, font=\fontsize{28.5}{34}\selectfont] at (4.8pt,347pt) {b)};
\end{tikzpicture}
\end{document}
